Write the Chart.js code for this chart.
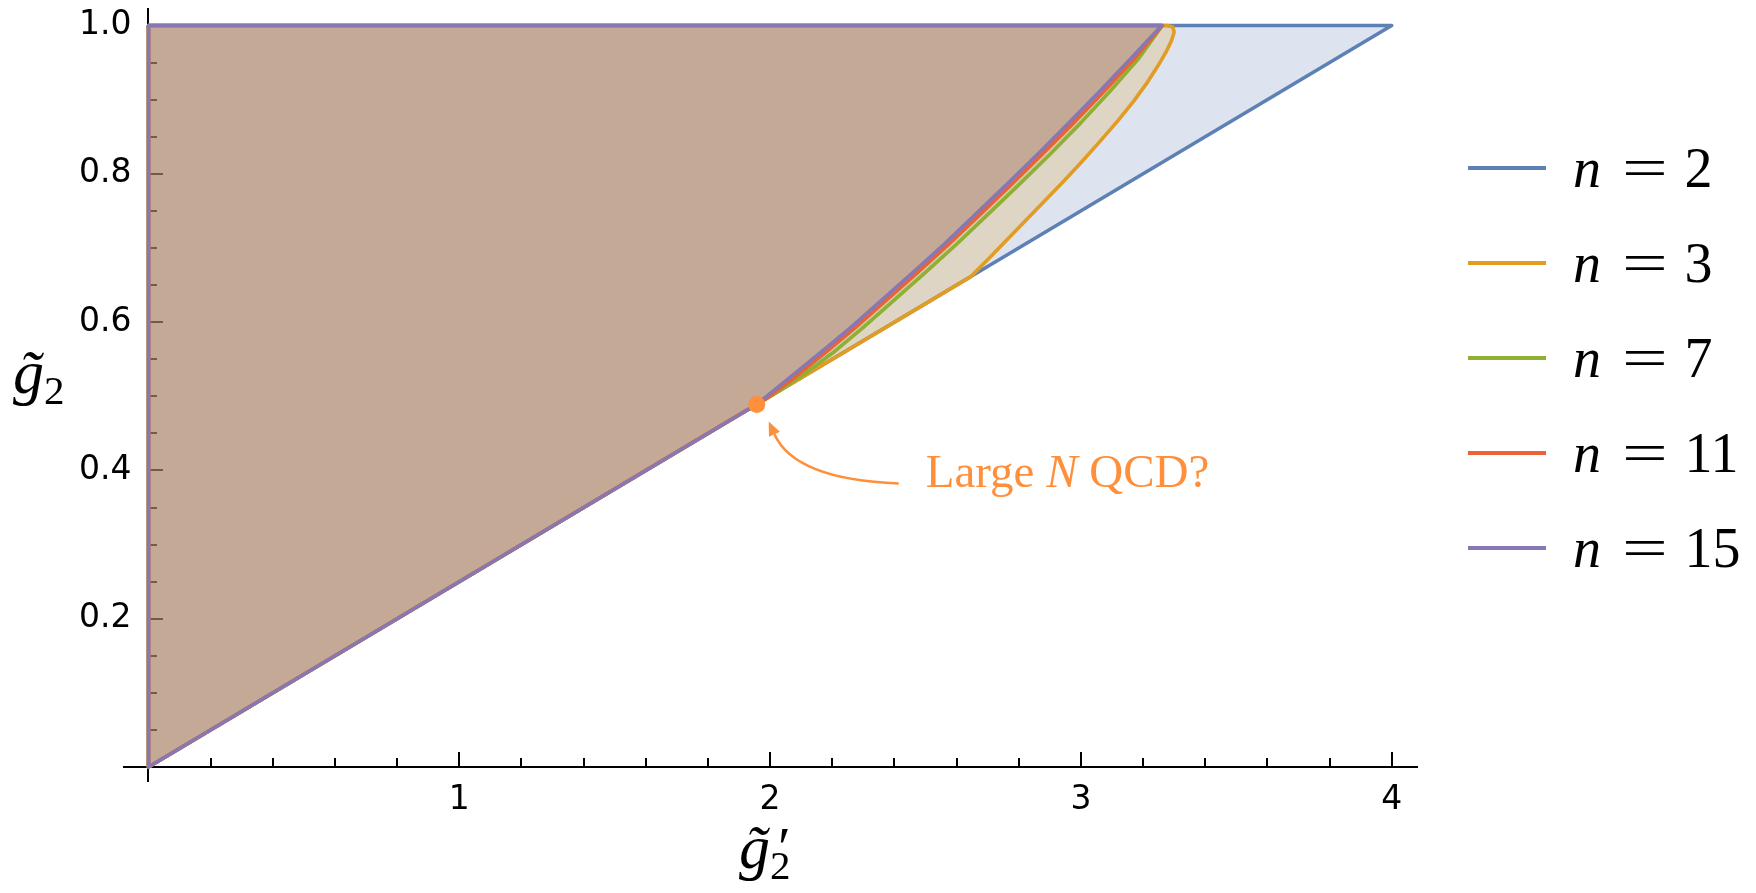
<!DOCTYPE html>
<html>
<head>
<meta charset="utf-8">
<script src="https://cdn.jsdelivr.net/npm/chart.js@4.4.1/dist/chart.umd.min.js"></script>
<style>
  html, body { margin: 0; padding: 0; background: #fff; }
  #wrap { position: relative; width: 1756px; height: 893px; overflow: hidden; }
  #chart { position: absolute; left: 0; top: 0; }
  .math { position: absolute; white-space: nowrap; font-family: 'Liberation Serif', 'DejaVu Serif', serif; color: #000; line-height: 1; }
  #legend { position: absolute; left: 1468px; top: 120px; }
  .row { display: flex; align-items: center; height: 95px; }
  .swatch { width: 78px; height: 4px; margin-right: 27px; }
  .lab { font-family: 'Liberation Serif', serif; font-size: 56px; line-height: 1; white-space: nowrap; }
  .lab .eq { display: inline-block; transform: scaleX(1.45); margin: 0 24px 0 28px; }
</style>
</head>
<body>
<div id="wrap">
  <canvas id="chart" width="1756" height="893"></canvas>
  <div id="legend"></div>
  <div id="ytitle" class="math" style="left:13px; top:341px; font-size:62px;"><i>g̃</i><span style="font-size:41px; position:relative; top:11px;">2</span></div>
  <div id="xtitle" class="math" style="left:739px; top:816px; font-size:62px;"><i>g̃</i><span style="font-size:41px; position:relative; top:11px;">2</span><span style="position:absolute; left:39px; top:3px; font-size:58px;">′</span></div>
</div>
<script>
// ---------- data ----------
const seriesLabels = ['2', '3', '7', '11', '15'];          // n values
const seriesColors = ['#5E81B5', '#E19C24', '#8FB032', '#EB6235', '#8778B3'];

// closed boundary of each allowed region (g2' , g2)
const n2X  = [0, 4.000, 0, 0];
const n2Y  = [0, 1.000, 1, 0];

const n3X  = [0, 2.645, 2.700, 2.760, 2.820, 2.880, 2.940, 3.000, 3.060, 3.120, 3.170, 3.215, 3.250, 3.275, 3.292, 3.300, 3.296, 3.278, 0, 0];
const n3Y  = [0, 0.661, 0.684, 0.710, 0.736, 0.762, 0.788, 0.815, 0.843, 0.872, 0.898, 0.924, 0.947, 0.965, 0.980, 0.991, 0.998, 1.000, 1, 0];

const n7X  = [0, 2.030, 2.110, 2.200, 2.300, 2.400, 2.500, 2.600, 2.700, 2.800, 2.900, 2.998, 3.093, 3.185, 3.262, 0, 0];
const n7Y  = [0, 0.5075, 0.530, 0.558, 0.593, 0.630, 0.667, 0.705, 0.745, 0.785, 0.826, 0.868, 0.911, 0.955, 1.000, 1, 0];

const n11X = [0, 1.990, 2.075, 2.175, 2.275, 2.375, 2.475, 2.575, 2.675, 2.775, 2.875, 2.975, 3.074, 3.172, 3.262, 0, 0];
const n11Y = [0, 0.4975, 0.524, 0.558, 0.593, 0.630, 0.667, 0.705, 0.745, 0.785, 0.826, 0.868, 0.911, 0.955, 1.000, 1, 0];

const n15X = [0, 1.957, 2.060, 2.160, 2.260, 2.360, 2.460, 2.560, 2.660, 2.760, 2.860, 2.960, 3.060, 3.160, 3.260, 0, 0];
const n15Y = [0, 0.489, 0.524, 0.558, 0.593, 0.630, 0.667, 0.705, 0.745, 0.785, 0.826, 0.868, 0.911, 0.955, 1.000, 1, 0];

// "Large N QCD?" point
const qcdX = [1.957];
const qcdY = [0.489];

// axes
const xMajorTicks = [1, 2, 3, 4];
const xTickLabels = ['1', '2', '3', '4'];
const xMinorTicks = [0.2, 0.4, 0.6, 0.8, 1.2, 1.4, 1.6, 1.8, 2.2, 2.4, 2.6, 2.8, 3.2, 3.4, 3.6, 3.8];
const yMajorTicks = [0.2, 0.4, 0.6, 0.8, 1.0];
const yTickLabels = ['0.2', '0.4', '0.6', '0.8', '1.0'];
const yMinorTicks = [0.05, 0.1, 0.15, 0.25, 0.3, 0.35, 0.45, 0.5, 0.55, 0.65, 0.7, 0.75, 0.85, 0.9, 0.95];
const xRange = [-0.0788, 4.0814];
const yRange = [-0.0188, 1.0229];

// ---------- build ----------
function rgba(hex, a) {
  const n = parseInt(hex.slice(1), 16);
  return `rgba(${(n >> 16) & 255},${(n >> 8) & 255},${n & 255},${a})`;
}
const polys = [[n2X, n2Y], [n3X, n3Y], [n7X, n7Y], [n11X, n11Y], [n15X, n15Y]];
const datasets = polys.map((p, i) => ({
  label: 'n = ' + seriesLabels[i],
  data: p[0].map((x, j) => ({ x: x, y: p[1][j] })),
  showLine: true,
  fill: 'shape',
  borderColor: seriesColors[i],
  backgroundColor: rgba(seriesColors[i], 0.21),
  borderWidth: 3.6,
  borderJoinStyle: 'round',
  pointRadius: 0,
  pointHoverRadius: 0,
  tension: 0,
  order: 10 - i
}));
const annotColor = '#FF8F3A';
datasets.push({
  label: 'Large N QCD?',
  data: qcdX.map((x, j) => ({ x: x, y: qcdY[j] })),
  showLine: false,
  pointRadius: 8.5,
  pointBackgroundColor: annotColor,
  pointBorderWidth: 0,
  borderColor: annotColor,
  order: -1
});

function noPad(s) { s.paddingTop = 0; s.paddingBottom = 0; s.paddingLeft = 0; s.paddingRight = 0; }
function setTicks(vals) { return s => { s.ticks = vals.map(v => ({ value: v })); }; }
const tickFont = { family: 'DejaVu Sans', size: 33 };
const yLabelGapPx = 17;   // gap between y tick labels and the axis

const annotationPlugin = {
  id: 'qcdAnnotation',
  afterDatasetsDraw(chart) {
    const ctx = chart.ctx;
    const xs = chart.scales.x, ys = chart.scales.y;
    const px = xs.getPixelForValue(qcdX[0]);
    const py = ys.getPixelForValue(qcdY[0]);
    ctx.save();
    const tail = { x: px + 142, y: py + 79 };
    const ctrl = { x: px + 38, y: py + 75 };
    const tip = { x: px + 12, y: py + 17 };
    ctx.strokeStyle = annotColor;
    ctx.fillStyle = annotColor;
    ctx.lineWidth = 2.6;
    const ang = Math.atan2(tip.y - ctrl.y, tip.x - ctrl.x);
    const headLen = 14, headW = 6;
    const baseX = tip.x - headLen * Math.cos(ang), baseY = tip.y - headLen * Math.sin(ang);
    ctx.beginPath();
    ctx.moveTo(tail.x, tail.y);
    ctx.quadraticCurveTo(ctrl.x, ctrl.y, baseX, baseY);
    ctx.stroke();
    ctx.beginPath();
    ctx.moveTo(tip.x, tip.y);
    ctx.lineTo(baseX + headW * Math.sin(ang), baseY - headW * Math.cos(ang));
    ctx.lineTo(baseX - headW * Math.sin(ang), baseY + headW * Math.cos(ang));
    ctx.closePath();
    ctx.fill();
    let tx = px + 169, ty = py + 83;
    ctx.textBaseline = 'alphabetic';
    ctx.textAlign = 'left';
    const parts = [['Large ', ''], ['N', 'italic '], [' QCD?', '']];
    parts.forEach(([t, st]) => {
      ctx.font = st + "47px 'Liberation Serif', serif";
      ctx.fillText(t, tx, ty);
      tx += ctx.measureText(t).width;
    });
    ctx.restore();
  }
};

const xUnitPx = 1293 / (xRange[1] - xRange[0]);

new Chart(document.getElementById('chart'), {
  type: 'scatter',
  data: { datasets: datasets },
  options: {
    responsive: false,
    animation: false,
    devicePixelRatio: 1,
    layout: { padding: { left: 124, right: 339, top: 7, bottom: 112 } },
    plugins: { legend: { display: false }, tooltip: { enabled: false } },
    scales: {
      y: {   // data scale, carries the tick labels (left of the axis)
        type: 'linear', min: yRange[0], max: yRange[1], position: { x: -yLabelGapPx / xUnitPx },
        afterBuildTicks: setTicks(yMajorTicks), afterFit: noPad,
        border: { display: false },
        grid: { display: false },
        ticks: { color: '#000', font: tickFont, autoSkip: false,
                 callback: v => yTickLabels[yMajorTicks.indexOf(v)] }
      },
      yAxis: {
        type: 'linear', axis: 'y', min: yRange[0], max: yRange[1], position: { x: 0 },
        afterBuildTicks: setTicks(yMajorTicks), afterFit: noPad,
        border: { display: true, color: '#000', width: 2 },
        grid: { display: true, drawOnChartArea: false, drawTicks: true, tickLength: -16, color: '#000', lineWidth: 2 },
        ticks: { display: false }
      },
      yMinor: {
        type: 'linear', axis: 'y', min: yRange[0], max: yRange[1], position: { x: 0 },
        afterBuildTicks: setTicks(yMinorTicks), afterFit: noPad,
        border: { display: false },
        grid: { display: true, drawOnChartArea: false, drawTicks: true, tickLength: -9, color: '#000', lineWidth: 2 },
        ticks: { display: false }
      },
      x: {
        type: 'linear', min: xRange[0], max: xRange[1], position: { y: 0 },
        afterBuildTicks: setTicks(xMajorTicks), afterFit: noPad,
        border: { display: true, color: '#000', width: 2 },
        grid: { display: true, drawOnChartArea: false, drawTicks: true, tickLength: -16, color: '#000', lineWidth: 2 },
        ticks: { padding: 30, color: '#000', font: tickFont, maxRotation: 0, autoSkip: false,
                 callback: v => xTickLabels[xMajorTicks.indexOf(v)] }
      },
      xMinor: {
        type: 'linear', axis: 'x', min: xRange[0], max: xRange[1], position: { y: 0 },
        afterBuildTicks: setTicks(xMinorTicks), afterFit: noPad,
        border: { display: false },
        grid: { display: true, drawOnChartArea: false, drawTicks: true, tickLength: -9, color: '#000', lineWidth: 2 },
        ticks: { display: false }
      }
    }
  },
  plugins: [annotationPlugin]
});

// legend (HTML, built from the series arrays)
const legend = document.getElementById('legend');
seriesLabels.forEach((n, i) => {
  const row = document.createElement('div');
  row.className = 'row';
  row.innerHTML = `<span class="swatch" style="background:${seriesColors[i]}"></span>` +
                  `<span class="lab"><i>n</i><span class="eq">=</span>${n}</span>`;
  legend.appendChild(row);
});
</script>
</body>
</html>
